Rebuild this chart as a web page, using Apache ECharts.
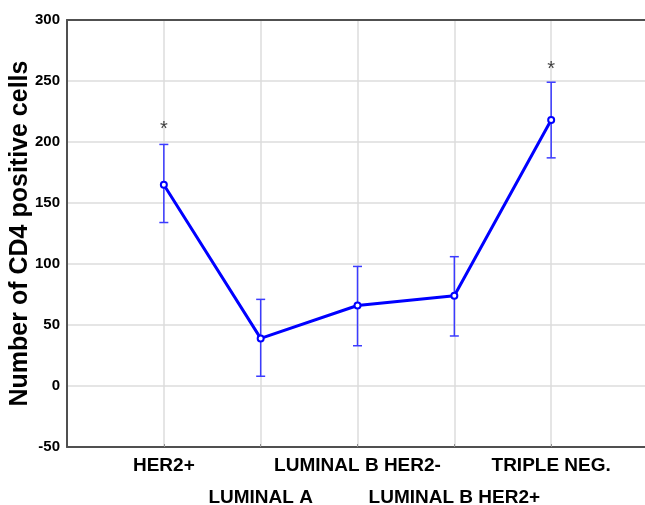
<!DOCTYPE html>
<html>
<head>
<meta charset="utf-8">
<script src="https://cdn.jsdelivr.net/npm/echarts@6/dist/echarts.min.js"></script>
<style>html,body{margin:0;padding:0;background:#fff}#c{width:645px;height:505px}</style>
</head>
<body>
<div id="c"></div>
<script>
const categories = ['HER2+', 'LUMINAL A', 'LUMINAL B HER2-', 'LUMINAL B HER2+', 'TRIPLE NEG.'];
const means = [165, 39, 66, 74, 218];
const lower = [134, 8, 33, 41, 187];
const upper = [198, 71, 98, 106, 249];
const starValues = [213, null, null, null, 262];
const yTicks = [-50, 0, 50, 100, 150, 200, 250, 300];

const pos = categories.map((c, i) => i + 1);
const lineData = means.map((m, i) => [pos[i], m]);
const errData = means.map((m, i) => [pos[i], lower[i], upper[i]]);
const starData = starValues.map((s, i) => s == null ? null : [pos[i], s]).filter(d => d);

const chart = echarts.init(document.getElementById('c'), null, {renderer: 'canvas'});
const font = '"Liberation Sans", Arial, sans-serif';
const frame = {color: '#505050', width: 2};
chart.setOption({
  animation: false,
  grid: {left: 67, right: -3, top: 20, bottom: 58, containLabel: false, outerBoundsMode: 'none', show: false},
  xAxis: [{
    type: 'value', min: 0, max: 6, interval: 1,
    axisLine: {show: true, onZero: false, lineStyle: frame},
    axisTick: {show: true, inside: true, length: 3, lineStyle: {color: '#909090'}},
    splitLine: {show: true, showMinLine: false, showMaxLine: false, lineStyle: {color: '#dcdcdc', width: 1.5}},
    axisLabel: {
      margin: 3, fontFamily: font, fontWeight: 'bold', fontSize: 19, color: '#000', lineHeight: 32,
      showMinLabel: false, showMaxLabel: false,
      formatter: v => { const i = Math.round(v) - 1; if (i < 0 || i >= categories.length) return ''; return (i % 2 === 1 ? '\n' : '') + categories[i]; }
    }
  }, {
    type: 'value', position: 'top', min: 0, max: 6,
    axisLine: {show: true, onZero: false, lineStyle: frame},
    axisTick: {show: false}, axisLabel: {show: false}, splitLine: {show: false}
  }],
  yAxis: {
    type: 'value', min: yTicks[0], max: yTicks[yTicks.length - 1], interval: 50,
    name: 'Number of CD4 positive cells', nameLocation: 'middle', nameGap: 34, nameMoveOverlap: false,
    nameTextStyle: {fontFamily: font, fontWeight: 'bold', fontSize: 25, color: '#000'},
    axisLine: {show: true, onZero: false, lineStyle: frame},
    axisTick: {show: false},
    splitLine: {show: true, showMinLine: false, showMaxLine: false, lineStyle: {color: '#dcdcdc', width: 1.5}},
    axisLabel: {margin: 7, fontFamily: font, fontWeight: 'bold', fontSize: 15, color: '#000'}
  },
  series: [
    {
      type: 'custom',
      data: errData,
      encode: {x: 0, y: [1, 2]},
      z: 3,
      renderItem: function (params, api) {
        const x = api.value(0);
        const a = api.coord([x, api.value(1)]);
        const b = api.coord([x, api.value(2)]);
        const hw = 4.5;
        const st = {stroke: '#3b3bff', lineWidth: 1.5, fill: null};
        return {type: 'group', children: [
          {type: 'line', shape: {x1: a[0], y1: a[1], x2: b[0], y2: b[1]}, style: st},
          {type: 'line', shape: {x1: a[0] - hw, y1: a[1], x2: a[0] + hw, y2: a[1]}, style: st},
          {type: 'line', shape: {x1: b[0] - hw, y1: b[1], x2: b[0] + hw, y2: b[1]}, style: st}
        ]};
      }
    },
    {
      type: 'line',
      data: lineData,
      z: 4,
      lineStyle: {color: '#0000ff', width: 3},
      symbol: 'emptyCircle', symbolSize: 6,
      itemStyle: {color: '#0000ff', borderColor: '#0000ff', borderWidth: 1.5}
    },
    {
      type: 'scatter',
      data: starData,
      symbolSize: 0,
      z: 5,
      label: {show: true, position: 'inside', formatter: '*', fontFamily: font, fontSize: 20, color: '#111', offset: [0, 3]}
    }
  ]
});
</script>
</body>
</html>
